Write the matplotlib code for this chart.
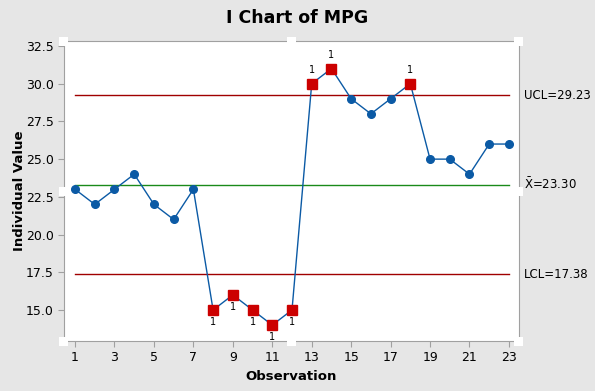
import matplotlib
matplotlib.use("Agg")
import matplotlib.pyplot as plt
import matplotlib.patches as patches

# datos del grafico
obs = list(range(1, 24))
mpg = [23, 22, 23, 24, 22, 21, 23, 15, 16, 15, 14, 15,
       30, 31, 29, 28, 29, 30, 25, 25, 24, 26, 26]
ucl = 29.23
media = 23.30
lcl = 17.38
xticks = [1, 3, 5, 7, 9, 11, 13, 15, 17, 19, 21, 23]
yticks = [15.0, 17.5, 20.0, 22.5, 25.0, 27.5, 30.0, 32.5]

plt.rcParams['font.family'] = ['DejaVu Sans']
fondo = '#e6e6e6'
azul = '#0b5aa5'
rojo = '#cc0000'

fig = plt.figure(figsize=(5.95, 3.91), dpi=100, facecolor=fondo)
ax = fig.add_axes([64/595, 1 - 341/391, (519-64)/595, (341-41)/391])
ax.set_facecolor('white')

# lineas de control
ax.plot([obs[0], obs[-1]], [ucl, ucl], color='#a00000', lw=1)
ax.plot([obs[0], obs[-1]], [lcl, lcl], color='#a00000', lw=1)
ax.plot([obs[0], obs[-1]], [media, media], color='#1a8a1a', lw=1)

ax.plot(obs, mpg, color=azul, lw=1)
fuera = [(x, y) for x, y in zip(obs, mpg) if y > ucl or y < lcl]
dentro = [(x, y) for x, y in zip(obs, mpg) if lcl <= y <= ucl]
ax.plot([p[0] for p in dentro], [p[1] for p in dentro], 'o', color=azul, ms=5.5)
ax.plot([p[0] for p in fuera], [p[1] for p in fuera], 's', color=rojo, ms=6.5)
for x, y in fuera:
    if y > ucl:
        ax.annotate('1', (x, y), xytext=(0, 6), textcoords='offset points',
                    ha='center', va='bottom', fontsize=7)
    else:
        ax.annotate('1', (x, y), xytext=(0, -5), textcoords='offset points',
                    ha='center', va='top', fontsize=7)

ax.set_xlim(0.44, 23.51)
ax.set_ylim(12.945, 32.83)
ax.set_xticks(xticks)
ax.set_yticks(yticks)
ax.set_yticklabels([f'{v:.1f}' for v in yticks])
for s in ax.spines.values():
    s.set_color('#a0a0a0')
ax.tick_params(colors='#a0a0a0', labelcolor='black', labelsize=9, length=4)

# etiquetas de limites
ax.text(1.01, ucl, 'UCL=29.23', transform=ax.get_yaxis_transform(),
        va='center', ha='left', fontsize=8.5)
ax.text(1.01, media, r'$\bar{\mathrm{X}}$=23.30', transform=ax.get_yaxis_transform(),
        va='center', ha='left', fontsize=8.5)
ax.text(1.01, lcl, 'LCL=17.38', transform=ax.get_yaxis_transform(),
        va='center', ha='left', fontsize=8.5)

ax.set_xlabel('Observation', fontsize=9.5, fontweight='bold', labelpad=4)
ax.set_ylabel('Individual Value', fontsize=9.5, fontweight='bold', labelpad=0)
fig.text(0.5, 1 - 18/391, 'I Chart of MPG', ha='center', va='center',
         fontsize=12.5, fontweight='semibold')

# cuadritos blancos de seleccion
for px, py in [(64, 41), (292, 41), (519, 41), (64, 341), (292, 341),
               (519, 341), (519, 191), (64, 191)]:
    fig.patches.append(patches.Rectangle(((px - 5)/595, 1 - (py + 5)/391),
                                         9/595, 9/391, facecolor='white',
                                         edgecolor='none',
                                         transform=fig.transFigure, zorder=5))

fig.savefig('out.png', dpi=100, facecolor=fondo)
